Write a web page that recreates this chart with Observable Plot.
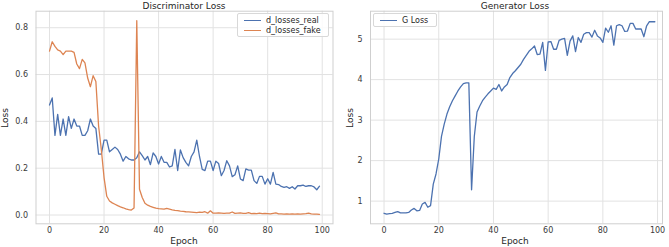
<!DOCTYPE html>
<html>
<head>
<meta charset="utf-8">
<script src="https://cdn.jsdelivr.net/npm/d3@7"></script>
<script src="https://cdn.jsdelivr.net/npm/@observablehq/plot@0.6"></script>
<style>
  html, body { margin: 0; padding: 0; background: #fff; }
  #fig { position: relative; width: 669px; height: 247px; overflow: hidden; font-family: "DejaVu Sans", sans-serif; color: #262626; }
  .panel { position: absolute; top: 0; }
  .title { position: absolute; font-size: 9px; transform: translate(-50%, -50%); white-space: nowrap; }
  .xlab { position: absolute; font-size: 9px; transform: translate(-50%, -50%); white-space: nowrap; }
  .ylab { position: absolute; font-size: 9px; transform: translate(-50%, -50%) rotate(-90deg); white-space: nowrap; }
  .legend { position: absolute; background: rgba(255,255,255,0.85); border: 1px solid #d8d8d8; border-radius: 2px; font-size: 8px; }
  .row { position: absolute; left: 0; display: flex; align-items: center; white-space: nowrap; }
  .sw { display: inline-block; height: 0; border-top: 1.3px solid; }
</style>
</head>
<body>
<div id="fig"></div>
<script>
const epochs = d3.range(0, 100);

const dLossesReal = [
  0.47, 0.50, 0.34, 0.43, 0.34, 0.41, 0.34, 0.42, 0.37, 0.41,
  0.38, 0.38, 0.34, 0.34, 0.36, 0.41, 0.38, 0.37, 0.26, 0.26,
  0.32, 0.32, 0.27, 0.28, 0.29, 0.28, 0.26, 0.23, 0.25, 0.24,
  0.235, 0.235, 0.245, 0.27, 0.254, 0.235, 0.25, 0.215, 0.265, 0.25,
  0.218, 0.25, 0.225, 0.225, 0.205, 0.21, 0.28, 0.19, 0.278, 0.245,
  0.225, 0.21, 0.25, 0.27, 0.32, 0.25, 0.195, 0.19, 0.23, 0.23,
  0.19, 0.23, 0.22, 0.168, 0.19, 0.232, 0.21, 0.164, 0.172, 0.21,
  0.154, 0.147, 0.197, 0.192, 0.192, 0.147, 0.135, 0.165, 0.165, 0.132,
  0.155, 0.132, 0.182, 0.132, 0.13, 0.122, 0.118, 0.121, 0.114, 0.121,
  0.111, 0.125, 0.125, 0.128, 0.122, 0.125, 0.125, 0.12, 0.108, 0.123
];

const dLossesFake = [
  0.70, 0.74, 0.72, 0.705, 0.70, 0.685, 0.70, 0.70, 0.70, 0.695,
  0.645, 0.625, 0.665, 0.65, 0.585, 0.548, 0.595, 0.57, 0.38, 0.28,
  0.16, 0.08, 0.06, 0.052, 0.046, 0.04, 0.035, 0.031, 0.026, 0.023,
  0.021, 0.03, 0.83, 0.11, 0.075, 0.05, 0.042, 0.037, 0.033, 0.029,
  0.027, 0.026, 0.025, 0.028, 0.025, 0.022, 0.02, 0.019, 0.017, 0.016,
  0.014, 0.013, 0.012, 0.011, 0.01, 0.012, 0.011, 0.014, 0.008, 0.018,
  0.008, 0.008, 0.009, 0.008, 0.007, 0.008, 0.008, 0.013, 0.007, 0.008,
  0.009, 0.007, 0.007, 0.01, 0.006, 0.007, 0.006, 0.008, 0.006, 0.007,
  0.006, 0.005, 0.007, 0.009, 0.005, 0.005, 0.004, 0.005, 0.004, 0.005,
  0.004, 0.005, 0.004, 0.005, 0.006, 0.008, 0.005, 0.004, 0.004, 0.003
];

const gLoss = [
  0.70, 0.68, 0.69, 0.70, 0.72, 0.74, 0.71, 0.71, 0.71, 0.72,
  0.78, 0.82, 0.76, 0.77, 0.93, 0.97, 0.85, 0.89, 1.42, 1.67,
  2.04, 2.6, 2.9, 3.15, 3.33, 3.48, 3.6, 3.72, 3.82, 3.9,
  3.92, 3.92, 1.28, 2.6, 3.2, 3.35, 3.48, 3.57, 3.65, 3.72,
  3.79, 3.76, 3.88, 3.72, 3.82, 3.88, 4.05, 4.15, 4.22, 4.3,
  4.38, 4.5, 4.6, 4.7, 4.76, 4.83, 4.62, 4.63, 4.92, 4.23,
  4.93, 4.94, 4.75, 4.75, 4.97, 5.0, 5.02, 4.6, 4.95, 5.08,
  4.69, 5.04, 4.92, 5.12, 5.16, 5.16, 5.05, 5.22, 5.08, 5.03,
  4.92, 5.27, 5.17, 5.33, 4.85, 5.33, 5.36, 5.33, 5.19, 5.2,
  5.39, 5.39, 5.25, 5.25, 5.25, 5.06, 5.33, 5.43, 5.43, 5.43
];

const xTicks = [0, 20, 40, 60, 80, 100];
const dTicks = [0.0, 0.2, 0.4, 0.6, 0.8];
const gTicks = [1, 2, 3, 4, 5];

const seriesNames = ["d_losses_real", "d_losses_fake", "G Loss"];
const colors = {"d_losses_real": "#4c72b0", "d_losses_fake": "#dd8452", "G Loss": "#4c72b0"};

const dData = [
  ...epochs.map((e, i) => ({epoch: e, loss: dLossesReal[i], series: "d_losses_real"})),
  ...epochs.map((e, i) => ({epoch: e, loss: dLossesFake[i], series: "d_losses_fake"}))
];
const gData = epochs.map((e, i) => ({epoch: e, loss: gLoss[i], series: "G Loss"}));

const gridColor = "#e2e2e2";
const frameColor = "#cfcfcf";
const baseStyle = {fontFamily: "DejaVu Sans, sans-serif", fontSize: "8px", color: "#3a3a3a", background: "transparent", overflow: "visible"};

const H = 247, MT = 10.7, MB = 23.7;

const left = Plot.plot({
  width: 340, height: H,
  marginLeft: 35.5, marginRight: 7.5, marginTop: MT, marginBottom: MB,
  style: baseStyle,
  x: {domain: [-4.95, 103.95], ticks: xTicks, tickFormat: d3.format("d"), tickSize: 0, tickPadding: 4, label: null},
  y: {domain: [-0.0375, 0.8705], ticks: dTicks, tickFormat: d3.format(".1f"), tickSize: 0, tickPadding: 8, label: null},
  marks: [
    Plot.ruleX(xTicks, {stroke: gridColor, strokeWidth: 1}),
    Plot.ruleY(dTicks, {stroke: gridColor, strokeWidth: 1}),
    Plot.frame({stroke: frameColor, strokeWidth: 1}),
    Plot.line(dData, {x: "epoch", y: "loss", z: "series", stroke: d => colors[d.series], strokeWidth: 1.3, curve: "linear"})
  ]
});

const right = Plot.plot({
  width: 329, height: H,
  marginLeft: 30, marginRight: 7, marginTop: MT, marginBottom: MB,
  style: baseStyle,
  x: {domain: [-4.95, 101.8], ticks: xTicks, tickFormat: d3.format("d"), tickSize: 0, tickPadding: 4, label: null},
  y: {domain: [0.44, 5.69], ticks: gTicks, tickFormat: d3.format("d"), tickSize: 0, tickPadding: 8, label: null},
  marks: [
    Plot.ruleX(xTicks, {stroke: gridColor, strokeWidth: 1}),
    Plot.ruleY(gTicks, {stroke: gridColor, strokeWidth: 1}),
    Plot.frame({stroke: frameColor, strokeWidth: 1}),
    Plot.line(gData, {x: "epoch", y: "loss", stroke: d => colors[d.series], strokeWidth: 1.3})
  ]
});

const fig = document.getElementById("fig");
function place(el, x) { el.classList.add("panel"); el.style.left = x + "px"; fig.appendChild(el); }
place(left, 0);
place(right, 340);

function addText(cls, text, x, y) {
  const d = document.createElement("div");
  d.className = cls; d.textContent = text;
  d.style.left = x + "px"; d.style.top = y + "px";
  fig.appendChild(d);
}
addText("title", "Discriminator Loss", 184, 6);
addText("title", "Generator Loss", 515, 6);
addText("xlab", "Epoch", 184, 240.5);
addText("xlab", "Epoch", 515, 240.5);
addText("ylab", "Loss", 5, 118);
addText("ylab", "Loss", 350, 118);

function addLegend(x, y, w, h, names) {
  const box = document.createElement("div");
  box.className = "legend";
  box.style.left = x + "px"; box.style.top = y + "px";
  box.style.width = w + "px"; box.style.height = h + "px";
  names.forEach((n, i) => {
    const row = document.createElement("div");
    row.className = "row";
    row.style.top = (1 + i * 10.5) + "px";
    row.style.height = "10px";
    row.style.left = "6px";
    const sw = document.createElement("span");
    sw.className = "sw";
    sw.style.width = "17px";
    sw.style.borderTopColor = colors[n];
    sw.style.marginRight = "5px";
    const t = document.createElement("span");
    t.textContent = n;
    row.appendChild(sw); row.appendChild(t);
    box.appendChild(row);
  });
  fig.appendChild(box);
}
addLegend(237, 13, 90, 22, seriesNames.slice(0, 2));
addLegend(373, 13, 62, 12, seriesNames.slice(2));
</script>
</body>
</html>
